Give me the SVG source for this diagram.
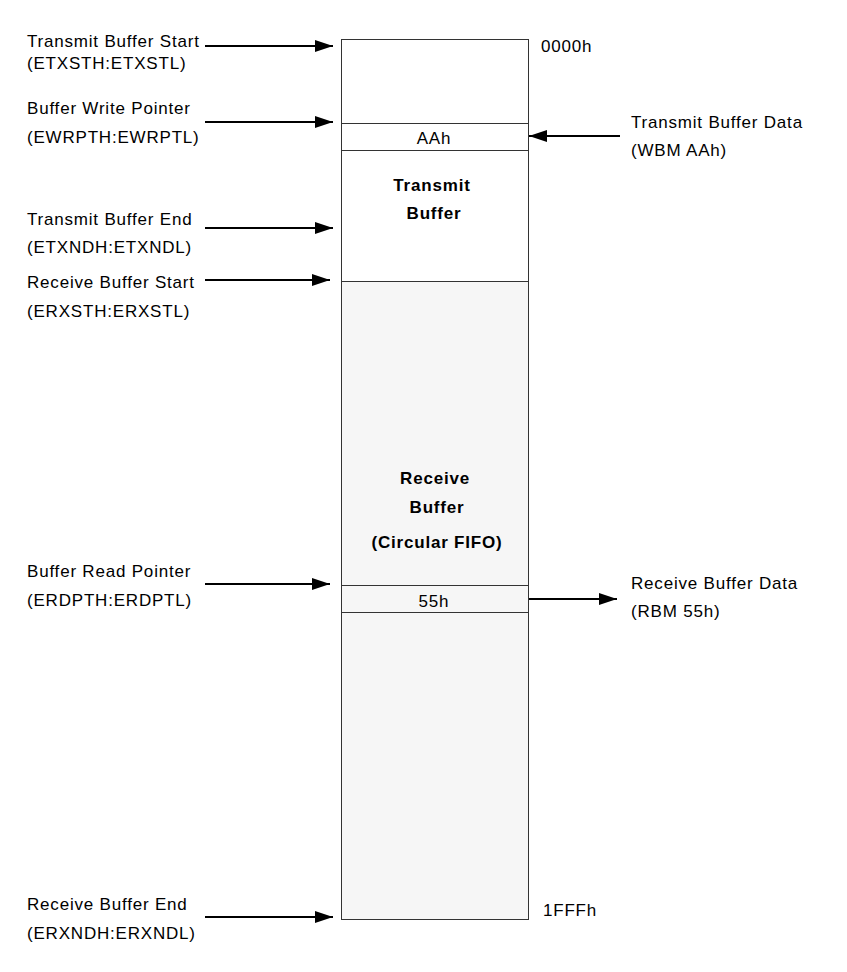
<svg xmlns="http://www.w3.org/2000/svg" width="847" height="972" viewBox="0 0 847 972">
<defs>
<marker id="ah" viewBox="0 0 18 12" refX="18" refY="6" markerWidth="18" markerHeight="12" markerUnits="userSpaceOnUse" orient="auto">
<path d="M0,0 L18,6 L0,12 Z" fill="#000"/>
</marker>
</defs>
<style>
text{font-family:"Liberation Sans",Arial,sans-serif;font-size:17px;letter-spacing:0.8px;fill:#000}
.b{font-weight:bold}
.c{text-anchor:middle}
.box{stroke:#333;stroke-width:1;}
.arr{stroke:#000;stroke-width:2;fill:none;marker-end:url(#ah)}
</style>
<rect width="847" height="972" fill="#fff"/>
<g id="memory">
<rect class="box" x="341.5" y="39.5" width="187" height="880" fill="#fff"/>
<rect class="box" x="341.5" y="281.5" width="187" height="638" fill="#f6f6f6"/>
</g>
<g id="tx-buffer">
<text class="b c" x="432" y="191">Transmit</text>
<text class="b c" x="434" y="219">Buffer</text>
</g>
<g id="aah-cell">
<rect class="box" x="341.5" y="123.5" width="187" height="27" fill="#fff"/>
<text class="c" x="434" y="144">AAh</text>
</g>
<g id="rx-buffer">
<text class="b c" x="435" y="484">Receive</text>
<text class="b c" x="437" y="513">Buffer</text>
<text class="b c" x="437" y="548">(Circular FIFO)</text>
</g>
<g id="55h-cell">
<rect class="box" x="341.5" y="585.5" width="187" height="27" fill="#f6f6f6"/>
<text class="c" x="434" y="607">55h</text>
</g>
<g id="labels">
<text x="27" y="47">Transmit Buffer Start</text>
<text x="27" y="69">(ETXSTH:ETXSTL)</text>
<text x="27" y="114">Buffer Write Pointer</text>
<text x="27" y="143">(EWRPTH:EWRPTL)</text>
<text x="27" y="225">Transmit Buffer End</text>
<text x="27" y="253">(ETXNDH:ETXNDL)</text>
<text x="27" y="288">Receive Buffer Start</text>
<text x="27" y="317">(ERXSTH:ERXSTL)</text>
<text x="27" y="577">Buffer Read Pointer</text>
<text x="27" y="606">(ERDPTH:ERDPTL)</text>
<text x="27" y="910">Receive Buffer End</text>
<text x="27" y="939">(ERXNDH:ERXNDL)</text>
<text x="541" y="52">0000h</text>
<text x="543" y="916">1FFFh</text>
<text x="631" y="128">Transmit Buffer Data</text>
<text x="631" y="156">(WBM AAh)</text>
<text x="631" y="589">Receive Buffer Data</text>
<text x="631" y="617">(RBM 55h)</text>
</g>
<g id="connectors">
<line class="arr" x1="205" y1="46" x2="333" y2="46"/>
<line class="arr" x1="205" y1="122" x2="333" y2="122"/>
<line class="arr" x1="205" y1="228" x2="333" y2="228"/>
<line class="arr" x1="205" y1="280" x2="330" y2="280"/>
<line class="arr" x1="205" y1="584" x2="330" y2="584"/>
<line class="arr" x1="205" y1="917" x2="333" y2="917"/>
<line class="arr" x1="620" y1="136" x2="529" y2="136"/>
<line class="arr" x1="529" y1="599" x2="617" y2="599"/>
</g>
</svg>
